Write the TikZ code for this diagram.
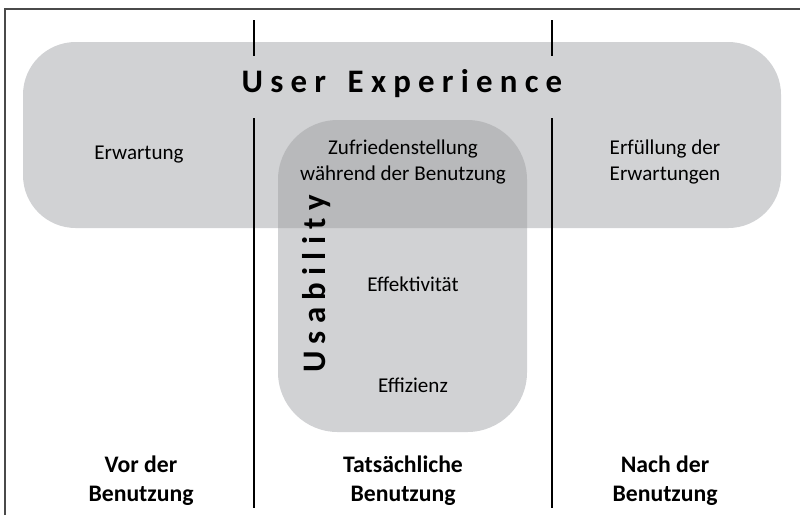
\documentclass[tikz,border=0pt]{standalone}
\usepackage{fontspec}
\setmainfont{Carlito}
\newfontfamily\spacedfont[LetterSpace=22]{Carlito}
\definecolor{uxgray}{HTML}{D1D2D4}
\definecolor{overlapgray}{HTML}{B8B9BB}
\definecolor{framegray}{HTML}{4A4A4A}
\tikzset{
	phase/.style={font=\fontsize{13.5}{16.5}\selectfont\bfseries, align=center},
	item/.style={font=\fontsize{12}{15.3}\selectfont, align=center},
	title/.style={font=\fontsize{18.7}{22}\selectfont\spacedfont\bfseries}
}
\begin{document}
\begin{tikzpicture}[x=0.02cm, y=-0.02cm]
	\useasboundingbox (0,0) rectangle (800,515);
	% frame
	\draw[framegray, line width=0.6pt] (5,515) -- (5,9) -- (800,9);
	% user experience and usability boxes
	\fill[uxgray, rounded corners=30] (23,42) rectangle (781,228);
	\fill[uxgray, rounded corners=34] (278,120) rectangle (527,432);
	\begin{scope}
		\clip[rounded corners=30] (23,42) rectangle (781,228);
		\fill[overlapgray, rounded corners=34] (278,120) rectangle (527,432);
	\end{scope}
	% phase borders
	\draw[line width=0.9pt] (254,20) -- (254,56) (254,118) -- (254,508);
	\draw[line width=0.9pt] (552,20) -- (552,56) (552,118) -- (552,508);
	% labels
	\node[title] (ux) at (402,84) {User\hspace{4pt} Experience};
	\node[title, rotate=90] (usab) at (317,284) {Usability};
	\node[item] (erw) at (139,155) {Erwartung};
	\node[item] (zuf) at (403,162) {Zufriedenstellung\\während der Benutzung};
	\node[item] (erf) at (665,162) {Erfüllung der\\Erwartungen};
	\node[item] (eff) at (413,284) {Effektivität};
	\node[item] (ezz) at (413,385) {Effizienz};
	\node[phase] (vor) at (141,481) {Vor der\\Benutzung};
	\node[phase] (tat) at (403,481) {Tatsächliche\\Benutzung};
	\node[phase] (nach) at (665,481) {Nach der\\Benutzung};
\end{tikzpicture}
\end{document}
